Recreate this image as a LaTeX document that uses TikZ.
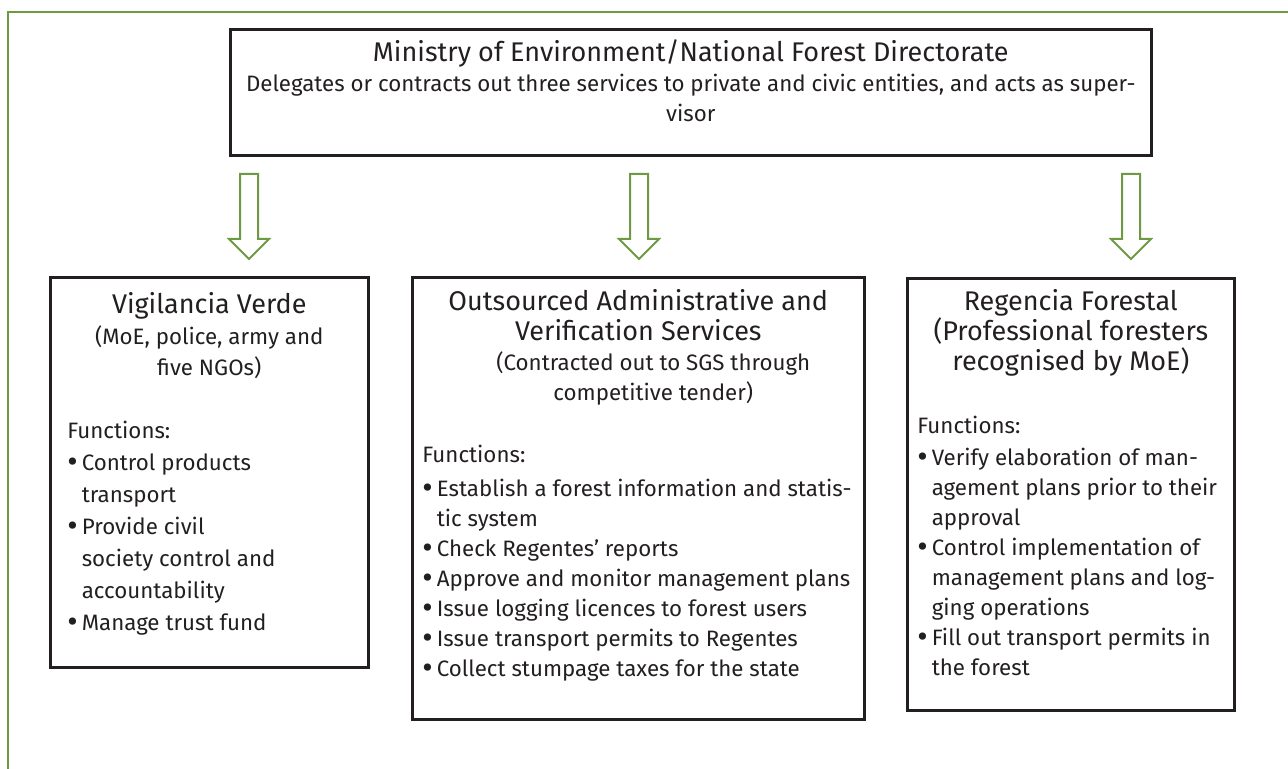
\documentclass[tikz,border=0pt]{standalone}
\usepackage{fontspec}
\setmainfont{Fira Sans}

\definecolor{framegreen}{RGB}{110,154,68}
\definecolor{inkgray}{RGB}{35,31,32}

\newcommand{\headfont}{\fontsize{13.5}{15}\selectfont}
\newcommand{\bodyfont}{\fontsize{11.15}{15}\selectfont}
\newcommand{\fitem}[1]{\par\hangindent=7.25pt\hangafter=1\noindent
  \makebox[7.25pt][l]{\raisebox{-1.3pt}{\fontsize{16}{16}\selectfont\textbullet}}#1}

\begin{document}
\begin{tikzpicture}[x=0.5pt,y=-0.5pt]
\tikzstyle{frame} = [draw=framegreen, line width=1.4pt]
\tikzstyle{block} = [rectangle, draw=inkgray, line width=1.3pt, text=inkgray,
inner ysep=0pt, anchor=north west]
\tikzstyle{blockarrow} = [draw=framegreen, line width=1pt, fill=white, line join=miter]

\useasboundingbox (0,0) rectangle (1288,769);
% green frame (top and left edge only)
\draw[frame] (1288,12) -- (8,12) -- (8,769);

% top box
\node [block, inner xsep=5pt] (ministry) at (229,28) {\parbox[c][63pt][t]{450.5pt}{\centering
\headfont\rule{0pt}{16pt}Ministry of Environment/National Forest Directorate\par
\bodyfont Delegates or contracts out three services to private and civic entities, and acts as super-\\visor\par}};

% three services
\node [block, inner xsep=8.5pt] (vigilancia) at (49,276) {\parbox[c][195pt][t]{142pt}{%
{\centering\headfont\rule{0pt}{18pt}Vigilancia Verde\par
\fontsize{11.15}{15.5}\selectfont (MoE, police, army and\\ five NGOs)\par}
\fontsize{11.15}{16}\selectfont\rightskip=0pt plus 1fil\vspace{15.5pt}
Functions:
\fitem{Control products\newline transport}
\fitem{Provide civil\newline society control and\newline accountability}
\fitem{Manage trust fund}}};

\node [block, inner xsep=5pt] (outsourced) at (411,276) {\parbox[c][221pt][t]{216pt}{%
{\centering\headfont\rule{0pt}{16.5pt}Outsourced Administrative and\\ Verification Services\par
\bodyfont\leftskip=15pt plus 1fil (Contracted out to SGS through\\ competitive tender)\par}
\bodyfont\rightskip=0pt plus 1fil\vspace{16pt}
Functions:\par\vspace{2pt}
\fitem{Establish a forest information and statis-\newline tic system}
\fitem{Check Regentes’ reports}
\fitem{Approve and monitor management plans}
\fitem{Issue logging licences to forest users}
\fitem{Issue transport permits to Regentes}
\fitem{Collect stumpage taxes for the state}}};

\node [block, inner xsep=5pt] (regencia) at (906,277) {\parbox[c][216pt][t]{153.5pt}{%
{\centering\headfont\rule{0pt}{16pt}Regencia Forestal\\ (Professional foresters\\ recognised by MoE)\par}
\bodyfont\rightskip=0pt plus 1fil\vspace{16.5pt}
Functions:\par\vspace{1pt}
\fitem{Verify elaboration of man-\newline agement plans prior to their\newline approval}
\fitem{Control implementation of\newline management plans and log-\newline ging operations}
\fitem{Fill out transport permits in\newline the forest}}};

% hollow arrows
\foreach \ax in {249,639,1131}
  \draw[blockarrow] (\ax-9,174) -- (\ax+9,174) -- (\ax+9,239) -- (\ax+20,239)
    -- (\ax,259) -- (\ax-20,239) -- (\ax-9,239) -- cycle;
\end{tikzpicture}
\end{document}
